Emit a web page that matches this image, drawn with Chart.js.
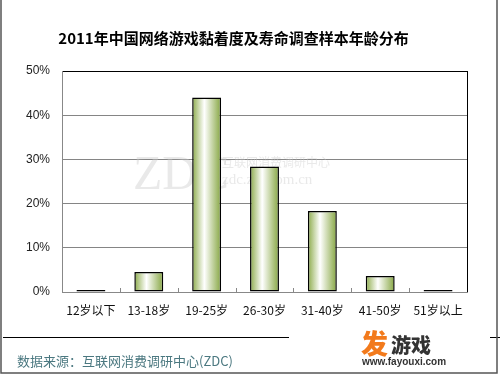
<!DOCTYPE html>
<html>
<head>
<meta charset="utf-8">
<script src="https://cdn.jsdelivr.net/npm/chart.js@4.4.1/dist/chart.umd.min.js"></script>
<style>
  html, body { margin: 0; padding: 0; background: #fff; }
  #wrap { width: 500px; height: 374px; }
</style>
</head>
<body>
<div id="wrap"><canvas id="myChart" width="500" height="374"></canvas></div>
<script>
// 数据
const categories = ['12岁以下', '13-18岁', '19-25岁', '26-30岁', '31-40岁', '41-50岁', '51岁以上'];
const shares = [0.1, 4.5, 44.0, 28.4, 18.3, 3.6, 0.1];
const yTicks = [0, 10, 20, 30, 40, 50];
const titleText = '2011年中国网络游戏黏着度及寿命调查样本年龄分布';
const sourceText = '数据来源：互联网消费调研中心(ZDC)';

const cjk = '"Noto Sans CJK SC", "Noto Sans", sans-serif';
const barPct = 0.5;

// 每根柱子的横向渐变
function barGradient(ctx) {
    const chart = ctx.chart;
    const xs = chart.scales.x;
    if (!xs || !chart.chartArea || ctx.dataIndex === undefined) return '#a8c070';
    const cx = xs.getPixelForValue(ctx.dataIndex);
    const half = (xs.width / categories.length) * barPct / 2;
    const g = chart.ctx.createLinearGradient(cx - half, 0, cx + half, 0);
    g.addColorStop(0, '#8cab4a');
    g.addColorStop(0.42, '#ffffff');
    g.addColorStop(1, '#86a642');
    return g;
}

// 水印、边框、来源等装饰
const decor = {
    id: 'decor',
    beforeDraw(chart) {
        const c = chart.ctx;
        c.save();
        c.fillStyle = '#fff';
        c.fillRect(0, 0, chart.width, chart.height);
        c.restore();
    },
    beforeDatasetsDraw(chart) {
        const c = chart.ctx;
        c.save();
        c.fillStyle = 'rgba(200,200,200,0.4)';
        c.font = '48px "Liberation Serif", serif';
        c.textBaseline = 'alphabetic';
        c.fillText('ZDC', 133, 189);
        c.font = '12px ' + cjk;
        c.fillText('互联网消费调研中心', 222, 167);
        c.font = '15px "Liberation Serif", serif';
        c.fillText('zdc.zol.com.cn', 222, 184);
        c.restore();
    },
    afterDraw(chart) {
        const c = chart.ctx;
        const a = chart.chartArea;
        c.save();
        // 右边框
        c.strokeStyle = '#000';
        c.lineWidth = 1;
        c.beginPath();
        c.moveTo(Math.round(a.right) + 0.5, a.top);
        c.lineTo(Math.round(a.right) + 0.5, a.bottom);
        c.stroke();
        // 分类间的小刻度（朝内）
        c.strokeStyle = '#888';
        const step = (a.right - a.left) / categories.length;
        for (let k = 1; k < categories.length; k++) {
            const x = Math.round(a.left + k * step) + 0.5;
            c.beginPath();
            c.moveTo(x, a.bottom - 4);
            c.lineTo(x, a.bottom);
            c.stroke();
        }
        // 底部分割线
        c.strokeStyle = '#000';
        c.beginPath();
        c.moveTo(3, 337.5);
        c.lineTo(289, 337.5);
        c.moveTo(490, 337.5);
        c.lineTo(500, 337.5);
        c.stroke();
        // 外框
        c.strokeStyle = '#555';
        c.lineWidth = 1.5;
        c.beginPath();
        c.moveTo(1, 0); c.lineTo(1, 373);
        c.lineTo(497, 373); c.lineTo(497, 0);
        c.stroke();
        // 来源
        c.fillStyle = '#4b7880';
        c.font = '13px ' + cjk;
        c.textBaseline = 'alphabetic';
        c.fillText(sourceText, 17, 366);
        // 发游戏 标志
        c.fillStyle = '#f27a1c';
        c.font = '900 27px ' + cjk;
        c.fillText('发', 361, 354);
        c.fillStyle = '#333';
        c.font = '900 20px ' + cjk;
        c.fillText('游戏', 391, 353);
        c.font = 'bold 10px "Liberation Sans", sans-serif';
        c.fillText('www.fayouxi.com', 362, 365);
        c.restore();
    }
};

const ctx = document.getElementById('myChart').getContext('2d');
const myChart = new Chart(ctx, {
    type: 'bar',
    data: {
        labels: categories,
        datasets: [{
            data: shares,
            backgroundColor: barGradient,
            borderColor: '#000',
            borderWidth: 1.5,
            borderSkipped: false,
            minBarLength: 2,
            barPercentage: barPct,
            categoryPercentage: 1.0
        }]
    },
    options: {
        responsive: false,
        devicePixelRatio: 1,
        animation: false,
        layout: { padding: { left: 0, right: 33, top: 0, bottom: 0 } },
        plugins: {
            legend: { display: false },
            tooltip: { enabled: false },
            title: {
                display: true,
                text: titleText,
                color: '#000',
                font: { family: cjk, size: 15, weight: 'bold', lineHeight: 1.2 },
                padding: { top: 29, bottom: 24 }
            }
        },
        scales: {
            y: {
                min: yTicks[0],
                max: yTicks[yTicks.length - 1],
                afterBuildTicks: s => { s.ticks = yTicks.map(v => ({ value: v })); },
                afterFit: s => { s.width = 62; },
                ticks: {
                    callback: v => v + '%',
                    color: '#222',
                    padding: 12,
                    font: { family: '"Liberation Sans", Arial, sans-serif', size: 12 }
                },
                grid: {
                    color: c => (c.tick && c.tick.value === 50) ? '#000' : '#858585',
                    drawTicks: false
                },
                border: { color: '#888' }
            },
            x: {
                afterFit: s => { s.height = 82; },
                grid: { display: false, drawTicks: false },
                border: { color: '#888' },
                ticks: {
                    color: '#111',
                    padding: 11,
                    maxRotation: 0,
                    autoSkip: false,
                    font: { family: cjk, size: 12 }
                }
            }
        }
    },
    plugins: [decor]
});
</script>
</body>
</html>
